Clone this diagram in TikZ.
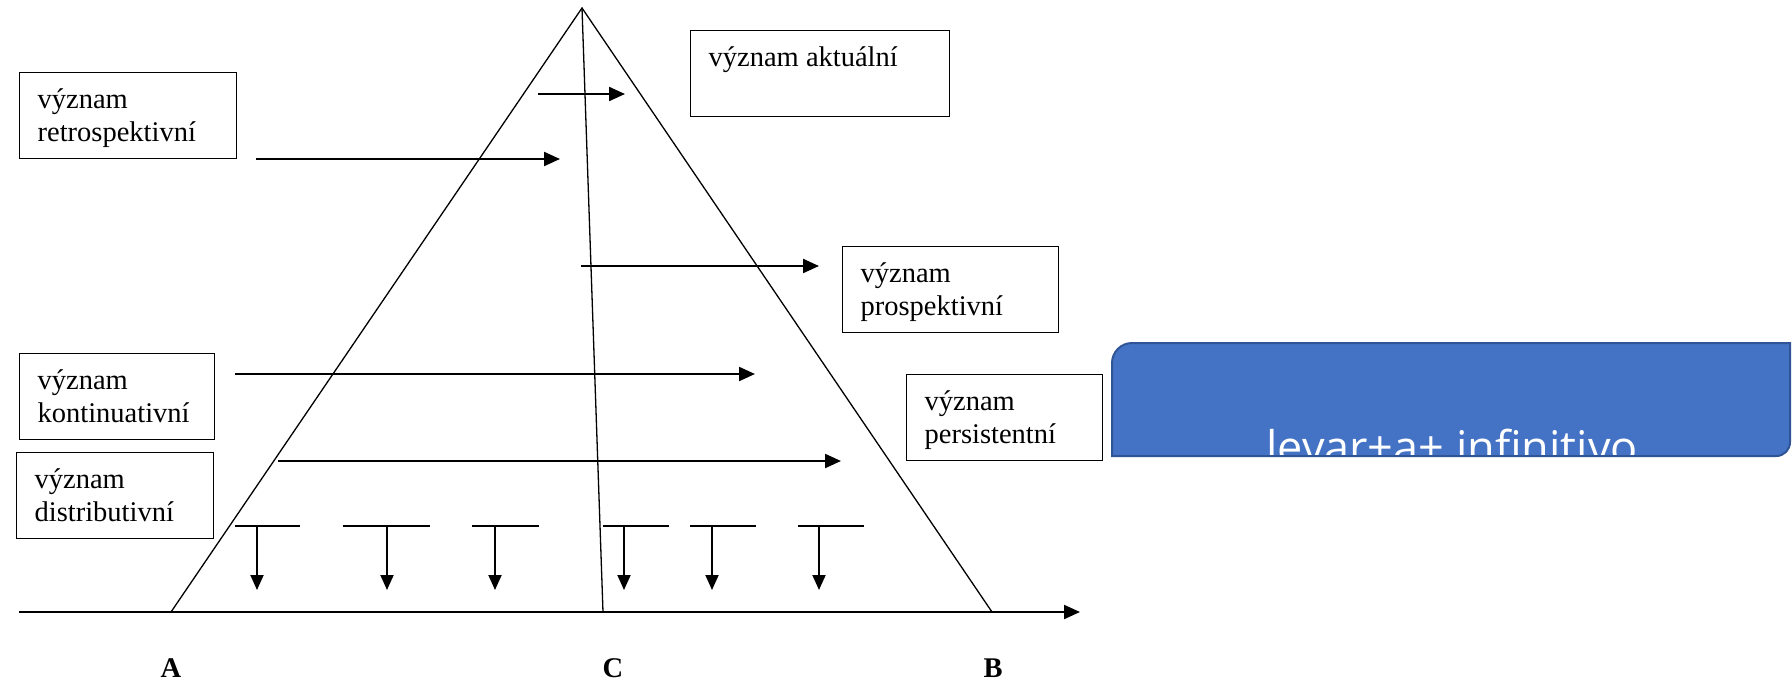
\documentclass[tikz,border=0pt]{standalone}
\usepackage{fontspec}
\setmainfont{Liberation Serif}
\newfontfamily\lblsans{Open Sans}
\usetikzlibrary{arrows.meta}
\definecolor{ofblue}{HTML}{4472C4}
\definecolor{ofbord}{HTML}{2F5597}
\newcommand{\bxtext}[2]{\rule{0pt}{36pt}#1\\#2\rule[-17pt]{0pt}{0pt}}
\tikzset{
  tbox/.style={draw, line width=1.3pt, fill=white, anchor=north west, inner xsep=18pt, inner ysep=0pt, align=flush left, font=\fontsize{28.5}{33}\selectfont},
  pt/.style={font=\fontsize{28.5}{33}\selectfont\bfseries, anchor=base},
  thinl/.style={line width=1.3pt},
  arr/.style={line width=2.2pt, -{Triangle[length=16pt,width=14pt]}},
  stem/.style={line width=1.9pt, -{Triangle[length=15pt,width=13pt]}},
  bar/.style={line width=1.3pt},
}
\begin{document}
\begin{tikzpicture}[x=1pt,y=-1pt]
\useasboundingbox (0,0) rectangle (1792,681);
% triangle
\coordinate (apex) at (582,8);
\coordinate (A) at (171,612);
\coordinate (Cb) at (603,612);
\coordinate (B) at (992,612);
\coordinate (ax0) at (19,612);
\coordinate (ax1) at (949,612);
\coordinate (ax2) at (1080,612);
\draw[thinl] (A) -- (apex) -- (B);
\draw[thinl] (apex) -- (Cb);
\draw[thinl] (ax0) -- (B);
\draw[arr] (ax1) -- (ax2);
% horizontal arrows
\coordinate (a1s) at (538,94);  \coordinate (a1e) at (625,94);
\coordinate (a2s) at (256,159); \coordinate (a2e) at (560,159);
\coordinate (a3s) at (581,266); \coordinate (a3e) at (819,266);
\coordinate (a4s) at (235,374); \coordinate (a4e) at (755,374);
\coordinate (a5s) at (278,461); \coordinate (a5e) at (841,461);
\draw[arr] (a1s) -- (a1e);
\draw[arr] (a2s) -- (a2e);
\draw[arr] (a3s) -- (a3e);
\draw[arr] (a4s) -- (a4e);
\draw[arr] (a5s) -- (a5e);
% T arrows
\foreach \i/\xa/\xb/\xs in {1/235/300/257, 2/343/430/387, 3/472/539/495, 4/603/669/624, 5/690/756/712, 6/798/864/819}{
  \coordinate (t\i l) at (\xa,526);
  \coordinate (t\i r) at (\xb,526);
  \coordinate (t\i s) at (\xs,526);
  \coordinate (t\i e) at (\xs,590);
  \draw[bar] (t\i l) -- (t\i r);
  \draw[stem] (t\i s) -- (t\i e);
}
% boxes
\node[tbox, text width=181pt] (retro) at (19,72) {\bxtext{význam}{retrospektivní}};
\node[tbox, text width=223pt] (aktu) at (690,30) {\bxtext{význam aktuální}{}};
\node[tbox, text width=180pt] (prosp) at (842,246) {\bxtext{význam}{prospektivní}};
\node[tbox, text width=159pt] (konti) at (19,353) {\bxtext{význam}{kontinuativní}};
\node[tbox, text width=161pt] (distr) at (16,452) {\bxtext{význam}{distributivní}};
\node[tbox, text width=160pt] (persi) at (906,374) {\bxtext{význam}{persistentní}};
% point labels
\node[pt] (lA) at (171,677) {A};
\node[pt] (lC) at (613,677) {C};
\node[pt] (lB) at (993,677) {B};
% blue shape
\fill[ofblue] (1112,456) -- (1112,363) .. controls (1112,352) and (1121,343) .. (1132,343) -- (1790,343) -- (1790,442) .. controls (1790,450) and (1784,456) .. (1776,456) -- cycle;
\node[text=white, anchor=base, inner sep=0pt, font=\lblsans\fontsize{45}{50}\selectfont] (lev) at (1452,463) {levar+a+ infinitivo};
\draw[ofbord, line width=2pt] (1112,456) -- (1112,363) .. controls (1112,352) and (1121,343) .. (1132,343) -- (1790,343) -- (1790,442) .. controls (1790,450) and (1784,456) .. (1776,456) -- cycle;
\end{tikzpicture}
\end{document}
